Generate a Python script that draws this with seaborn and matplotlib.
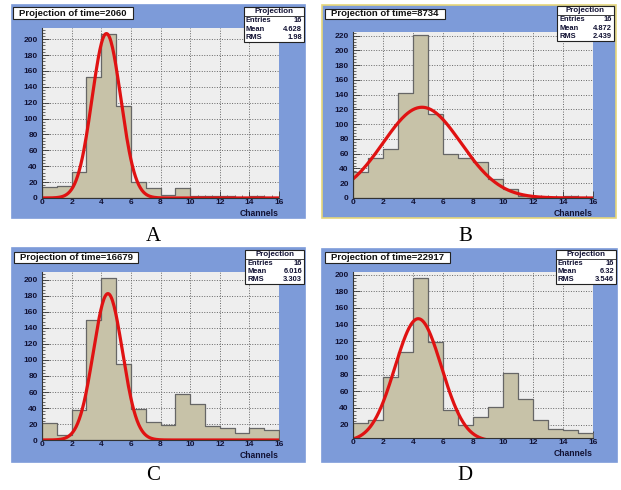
import numpy as np
import pandas as pd
import matplotlib
matplotlib.use("Agg")
import matplotlib.pyplot as plt
from matplotlib.patches import Rectangle
from matplotlib.ticker import MultipleLocator
import seaborn as sb

# histogram contents, 16 channels of width 1
edges = np.arange(17)
centers = edges[:-1] + 0.5

counts_a = [14, 15, 33, 152, 206, 116, 20, 13, 4, 13, 2, 3, 3, 1, 3, 1]
counts_b = [35, 54, 67, 142, 221, 114, 59, 54, 49, 26, 12, 3, 2, 1, 3, 1]
counts_c = [21, 6, 37, 150, 203, 95, 39, 23, 19, 57, 45, 17, 15, 9, 15, 13]
counts_d = [22, 25, 77, 107, 196, 119, 37, 19, 29, 41, 82, 51, 25, 15, 13, 10]

# gaussian fit parameters: amplitude, mean, sigma, x range end
fit_a = [207, 4.35, 0.97, 16]
fit_b = [123, 4.6, 2.6, 16]
fit_c = [183, 4.45, 0.98, 16]
fit_d = [147, 4.35, 1.55, 9.1]

titles = ["Projection of time=2060", "Projection of time=8734",
          "Projection of time=16679", "Projection of time=22917"]
entries = [16, 16, 16, 16]
means = ["4.628", "4.872", "6.016", "6.32"]
rmss = ["1.98", "2.439", "3.303", "3.546"]
letters = ["A", "B", "C", "D"]
ylims = [(0, 214), (0, 225), (0, 210), (4, 203)]

W, H = 621, 490
sb.set_theme(style="white")
plt.rcParams['font.family'] = ['Liberation Sans', 'DejaVu Sans']

fig = plt.figure(figsize=(W / 100, H / 100), dpi=100)
fig.patch.set_facecolor("white")


def box(x0, y0, x1, y1):
    # pixel box (top-left origin) -> figure fractions
    return [x0 / W, 1 - y1 / H, (x1 - x0) / W, (y1 - y0) / H]


# frame, plot area, title box, stat box, label centre
layout = [
    dict(frame=(12, 5, 305, 218), plot=(42, 28, 279, 198), title=(13, 7, 133, 19),
         stat=(244, 7, 304, 42), label=(153, 236)),
    dict(frame=(322, 5, 616, 218), plot=(353, 32, 593, 198), title=(325, 9, 445, 19),
         stat=(557, 6, 614, 41), label=(465, 236)),
    dict(frame=(12, 248, 305, 462), plot=(42, 272, 279, 440), title=(14, 252, 138, 263),
         stat=(245, 250, 304, 284), label=(153, 475)),
    dict(frame=(322, 249, 617, 462), plot=(353, 272, 593, 438), title=(325, 252, 450, 263),
         stat=(556, 250, 616, 284), label=(465, 475)),
]

all_counts = [counts_a, counts_b, counts_c, counts_d]
all_fits = [fit_a, fit_b, fit_c, fit_d]

for i in range(4):
    lay = layout[i]
    fx0, fy0, fx1, fy1 = lay["frame"]
    ec = "#e6d77a" if i == 1 else "#7d9bd9"
    fig.patches.append(Rectangle((fx0 / W, 1 - fy1 / H), (fx1 - fx0) / W, (fy1 - fy0) / H,
                                 transform=fig.transFigure, facecolor="#7d9bd9",
                                 edgecolor=ec, linewidth=1.2, zorder=-5))

    ax = fig.add_axes(box(*lay["plot"]))
    ax.set_facecolor("#eeeeee")
    df = pd.DataFrame({"x": centers, "w": all_counts[i]})
    sb.histplot(data=df, x="x", weights="w", binwidth=1, binrange=(0, 16), element="step",
                fill=True, color="#c7c2a8", alpha=1, edgecolor="#666666", linewidth=0.9, ax=ax)

    amp, mu, sig, xend = all_fits[i]
    xs = np.linspace(0, xend, 300)
    fit_df = pd.DataFrame({"x": xs, "y": amp * np.exp(-0.5 * ((xs - mu) / sig) ** 2)})
    sb.lineplot(data=fit_df, x="x", y="y", color="#e01212", linewidth=2.3, ax=ax)

    ax.set_xlim(0, 16)
    ax.set_ylim(*ylims[i])
    ax.xaxis.set_major_locator(MultipleLocator(2))
    ax.xaxis.set_minor_locator(MultipleLocator(0.5))
    ax.yaxis.set_major_locator(MultipleLocator(20))
    ax.yaxis.set_minor_locator(MultipleLocator(4))
    ax.grid(True, which="major", linestyle=(0, (1, 1.6)), color="#666666", linewidth=0.7)
    ax.set_axisbelow(True)
    ax.tick_params(axis="both", which="both", direction="in", color="#333333",
                   labelsize=6.0, left=True, bottom=True)
    ax.tick_params(axis="y", pad=3)
    ax.tick_params(axis="x", pad=1)
    ax.tick_params(which="major", length=5, width=0.6)
    ax.tick_params(which="minor", length=2.5, width=0.5)
    for lab in ax.get_xticklabels() + ax.get_yticklabels():
        lab.set_fontweight("bold")
        lab.set_color("#111133")
    ax.set_xlabel("")
    ax.set_ylabel("")
    for s in ["top", "right"]:
        ax.spines[s].set_visible(False)
    for s in ["left", "bottom"]:
        ax.spines[s].set_color("#333333")
        ax.spines[s].set_linewidth(0.8)

    px0, py0, px1, py1 = lay["plot"]
    fig.text(px1 / W, 1 - (py1 + 15) / H, "Channels", ha="right", va="center",
             fontsize=6.2, fontweight="bold", color="#111133")

    # title box
    tx0, ty0, tx1, ty1 = lay["title"]
    fig.patches.append(Rectangle((tx0 / W, 1 - ty1 / H), (tx1 - tx0) / W, (ty1 - ty0) / H,
                                 transform=fig.transFigure, facecolor="white",
                                 edgecolor="#222222", linewidth=0.8, zorder=3))
    fig.text((tx0 + 6) / W, 1 - (ty0 + ty1) / 2 / H, titles[i], ha="left", va="center",
             fontsize=6.8, fontweight="bold", color="#111111", zorder=4)

    # stat box
    sx0, sy0, sx1, sy1 = lay["stat"]
    fig.patches.append(Rectangle((sx0 / W, 1 - sy1 / H), (sx1 - sx0) / W, (sy1 - sy0) / H,
                                 transform=fig.transFigure, facecolor="white",
                                 edgecolor="#222222", linewidth=0.8, zorder=3))
    hdr = sy0 + (sy1 - sy0) * 0.26
    fig.lines.append(plt.Line2D([sx0 / W, sx1 / W], [1 - hdr / H, 1 - hdr / H],
                                transform=fig.transFigure, color="#222222", linewidth=0.6,
                                zorder=4))
    fig.text((sx0 + sx1) / 2 / W, 1 - (sy0 + hdr) / 2 / H, "Projection", ha="center",
             va="center", fontsize=5.8, fontweight="bold", color="#111133", zorder=4)
    rows = [("Entries", str(entries[i])), ("Mean", means[i]), ("RMS", rmss[i])]
    rh = (sy1 - hdr) / 3
    for r, (k, v) in enumerate(rows):
        yy = 1 - (hdr + rh * (r + 0.5)) / H
        fig.text((sx0 + 2) / W, yy, k, ha="left", va="center", fontsize=5.4,
                 fontweight="bold", color="#111133", zorder=4)
        fig.text((sx1 - 2) / W, yy, v, ha="right", va="center", fontsize=5.4,
                 fontweight="bold", color="#111133", zorder=4)

    lx, ly = lay["label"]
    fig.text(lx / W, 1 - ly / H, letters[i], ha="center", va="center", fontsize=15,
             family="Liberation Serif", color="black")

fig.savefig("out.png", dpi=100)
